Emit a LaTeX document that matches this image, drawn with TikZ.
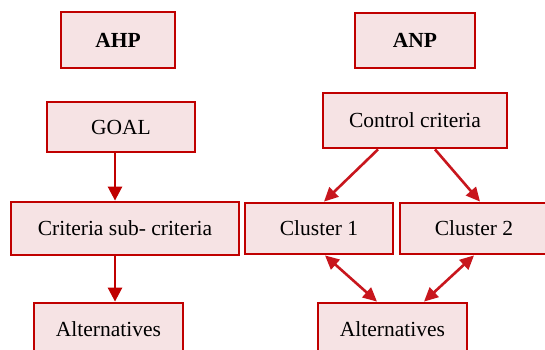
\documentclass[tikz,border=0pt]{standalone}
\usepackage{fontspec}
\setmainfont{Liberation Serif}
\usetikzlibrary{arrows.meta}
\definecolor{boxred}{HTML}{C00000}
\definecolor{boxfill}{HTML}{F6E3E4}
\definecolor{arrred}{HTML}{C8161D}
\tikzset{
  box/.style={draw=boxred, fill=boxfill, line width=2.8pt, inner sep=0pt,
    font=\fontsize{21.5}{26}\selectfont},
  arr/.style={draw=boxred, line width=2.6pt, -{Triangle[length=14pt,width=14pt]}},
  darr/.style={draw=arrred, line width=2.6pt,
    {Triangle[length=14pt,width=13pt]}-{Triangle[length=14pt,width=13pt]}},
  sarr/.style={draw=arrred, line width=2.6pt, -{Triangle[length=14pt,width=13pt]}}
}
\begin{document}
\begin{tikzpicture}[x=1pt,y=-1pt]
\useasboundingbox (0,0) rectangle (545,349);
\fill[white] (0,0) rectangle (545,349);
\clip (0,0) rectangle (545,349);
\node[box, minimum width=114pt, minimum height=56pt, font=\fontsize{21.5}{26}\selectfont\bfseries] (AHP) at (118,40) {AHP};
\node[box, minimum width=120pt, minimum height=55pt, font=\fontsize{21.5}{26}\selectfont\bfseries] (ANP) at (415,40.5) {ANP};
\node[box, minimum width=148pt, minimum height=50pt] (GOAL) at (121,127) {GOAL};
\node[box, minimum width=184pt, minimum height=55pt] (CC) at (415,120.5) {Control criteria};
\node[box, minimum width=228pt, minimum height=53pt] (CRIT) at (125,228.5) {Criteria sub- criteria};
\node[box, minimum width=148pt, minimum height=51pt] (C1) at (319,228.5) {Cluster 1};
\node[box, minimum width=148pt, minimum height=51pt] (C2) at (474,228.5) {Cluster 2};
\node[box, minimum width=149pt, minimum height=52pt] (ALTL) at (108.5,329) {Alternatives};
\node[box, minimum width=149pt, minimum height=52pt] (ALTR) at (392.5,329) {Alternatives};
\draw[arr] ([xshift=-6pt]GOAL.south) -- ([xshift=-6pt]GOAL.south |- CRIT.north);
\draw[arr] ([xshift=-10pt]CRIT.south) -- ([xshift=-10pt]CRIT.south |- ALTL.north);
\draw[sarr] ([xshift=-37pt]CC.south) -- ([xshift=5pt]C1.north);
\draw[sarr] ([xshift=20pt]CC.south) -- ([xshift=6pt]C2.north);
\draw[darr] ([xshift=6pt]C1.south) -- ([xshift=-15.5pt]ALTR.north);
\draw[darr] (C2.south) -- ([xshift=31.5pt]ALTR.north);
\end{tikzpicture}
\end{document}
